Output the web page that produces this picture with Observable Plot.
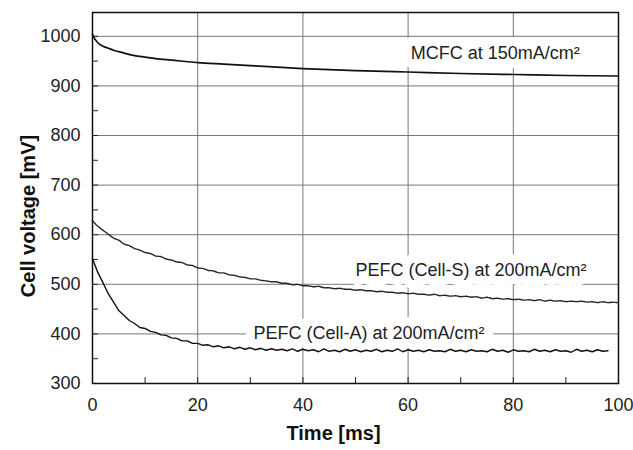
<!DOCTYPE html>
<html>
<head>
<meta charset="utf-8">
<script src="https://cdn.jsdelivr.net/npm/d3@7"></script>
<script src="https://cdn.jsdelivr.net/npm/@observablehq/plot@0.6"></script>
<style>
  body { margin: 0; background: #fff; }
</style>
</head>
<body>
<div id="chart"></div>
<script>
// ---- data ----
const mcfcTime = [0, 0.3, 0.7, 1, 1.5, 2, 3, 4, 5, 6, 8, 10, 12, 15, 20, 25, 30, 40, 50, 60, 70, 80, 90, 100];
const mcfcVolt = [1004, 997, 991, 987, 983, 980, 976, 972, 969, 966, 961, 958, 955, 952, 947, 944, 941, 935, 931, 928, 925, 923, 921, 920];

const cellSTime = d3.range(0, 101);
const cellSVolt = [628, 617, 609, 601, 593, 589, 581, 578, 572, 569,
  564, 562, 557, 556, 551, 549, 545, 544, 539, 538,
  533, 532, 528, 527, 523, 523, 519, 518, 515, 514,
  511, 511, 508, 507, 505, 505, 502, 502, 499, 500,
  497, 497, 495, 496, 493, 493, 491, 492, 490, 490,
  488, 489, 487, 487, 485, 486, 484, 484, 482, 483,
  481, 482, 480, 480, 478, 480, 477, 478, 476, 477,
  475, 476, 474, 475, 472, 474, 471, 472, 470, 471,
  469, 470, 468, 469, 467, 469, 466, 468, 466, 467,
  465, 466, 465, 466, 464, 465, 463, 465, 463, 464, 463];

const cellATime = d3.range(0, 99);
const cellAVolt = [552, 524, 503, 481, 464, 447, 437, 427, 421, 413,
  411, 405, 403, 398, 397, 392, 391, 386, 386, 381,
  381, 377, 378, 374, 376, 372, 374, 370, 373, 369,
  372, 368, 371, 367, 370, 367, 369, 366, 370, 365,
  369, 366, 368, 364, 370, 365, 367, 364, 369, 365,
  368, 364, 367, 365, 369, 364, 367, 365, 370, 364,
  368, 365, 367, 364, 368, 365, 366, 364, 369, 365,
  367, 364, 368, 365, 366, 364, 369, 365, 367, 363,
  368, 365, 366, 364, 369, 365, 367, 364, 368, 365,
  366, 363, 369, 365, 367, 364, 368, 365, 366];

const labelText = ["MCFC at 150mA/cm²", "PEFC (Cell-S) at 200mA/cm²", "PEFC (Cell-A) at 200mA/cm²"];
const labelTime = [60.5, 50, 30.6];
const labelVolt = [966, 528, 401];

const xTicks = [0, 20, 40, 60, 80, 100];
const xMinor = [10, 30, 50, 70, 90];
const yTicks = [300, 400, 500, 600, 700, 800, 900, 1000];
const yMinor = [350, 450, 550, 650, 750, 850, 950];
const xGrid = [20, 40, 60, 80];
const yGrid = [400, 500, 600, 700, 800, 900, 1000];

const xTitle = "Time [ms]";
const yTitle = "Cell voltage [mV]";

// ---- build tables ----
const mcfc = mcfcTime.map((t, i) => ({t, v: mcfcVolt[i]}));
const cellS = cellSTime.map((t, i) => ({t, v: cellSVolt[i]}));
const cellA = cellATime.map((t, i) => ({t, v: cellAVolt[i]}));
const labels = labelText.map((s, i) => ({s, t: labelTime[i], v: labelVolt[i]}));

const font = "'Liberation Sans', Arial, Helvetica, sans-serif";

const chart = Plot.plot({
  width: 633,
  height: 450,
  marginLeft: 92,
  marginRight: 15,
  marginTop: 12,
  marginBottom: 67,
  style: {fontFamily: font, fontSize: "18px", color: "#222", background: "#fff"},
  x: {domain: [0, 100]},
  y: {domain: [300, 1048]},
  marks: [
    Plot.gridX(xGrid, {stroke: "#777", strokeOpacity: 1, strokeWidth: 1}),
    Plot.gridY(yGrid, {stroke: "#777", strokeOpacity: 1, strokeWidth: 1}),
    Plot.text(labels, {x: "t", y: "v", text: "s", textAnchor: "start", fontSize: 18,
      fill: "#222", stroke: "#fff", strokeWidth: 18, strokeLinejoin: "round", paintOrder: "stroke"}),
    Plot.axisX({ticks: xTicks, tickSize: 0, tickPadding: 15, label: null, fontSize: 18, tickFormat: d3.format("d")}),
    Plot.axisY({ticks: yTicks, tickSize: 0, tickPadding: 12, label: null, fontSize: 18, tickFormat: d3.format("d")}),
    Plot.axisX({ticks: xMinor, tickSize: -6, tickFormat: () => "", label: null, anchor: "bottom"}),
    Plot.axisY({ticks: yMinor, tickSize: -6, tickFormat: () => "", label: null, anchor: "left"}),
    Plot.axisX({ticks: xGrid, tickSize: -6, tickFormat: () => "", label: null, anchor: "bottom"}),
    Plot.axisY({ticks: yGrid, tickSize: -6, tickFormat: () => "", label: null, anchor: "left"}),
    Plot.line(mcfc, {x: "t", y: "v", stroke: "#111", strokeWidth: 1.7, curve: "monotone-x"}),
    Plot.line(cellS, {x: "t", y: "v", stroke: "#222", strokeWidth: 1.4, strokeDasharray: "2,1"}),
    Plot.line(cellA, {x: "t", y: "v", stroke: "#111", strokeWidth: 1.4}),
    Plot.frame({stroke: "#111", strokeWidth: 1.5}),
    Plot.text([xTitle], {text: d => d, frameAnchor: "bottom", textAnchor: "middle", dy: 56, dx: -22,
      fontSize: 20, fontWeight: "bold", fill: "#111"}),
    Plot.text([yTitle], {text: d => d, frameAnchor: "left", textAnchor: "middle", rotate: -90, dx: -64, dy: 18,
      fontSize: 20, fontWeight: "bold", fill: "#111"})
  ]
});
document.getElementById("chart").append(chart);
</script>
</body>
</html>
